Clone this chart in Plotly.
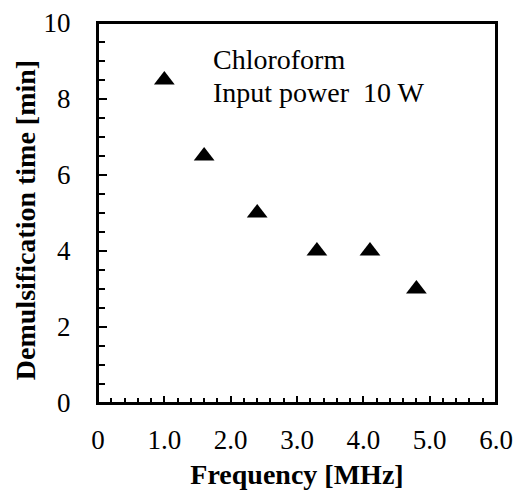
import plotly.graph_objects as go

freq = [1.0, 1.6, 2.4, 3.3, 4.1, 4.8]
demuls_time = [8.5, 6.5, 5.0, 4.0, 4.0, 3.0]
x_ticks = [0, 1, 2, 3, 4, 5, 6]
x_labels = ["0", "1.0", "2.0", "3.0", "4.0", "5.0", "6.0"]
y_ticks = [0, 2, 4, 6, 8, 10]
note_lines = ["Chloroform", "Input power  10 W"]

font_family = "Liberation Serif"

fig = go.Figure()
fig.add_trace(go.Scatter(
    x=freq, y=demuls_time, mode="markers",
    marker=dict(symbol="triangle-up", size=18, color="black"),
    showlegend=False, cliponaxis=False,
))

for line, ypos in zip(note_lines, [0.903, 0.818]):
    fig.add_annotation(x=0.285, y=ypos, xref="paper", yref="paper",
                       text=line, showarrow=False,
                       xanchor="left", yanchor="middle", align="left",
                       font=dict(family=font_family, size=28, color="black"))

# plot frame
fig.add_shape(type="rect", xref="paper", yref="paper", x0=0, x1=1, y0=0, y1=1,
              line=dict(color="black", width=2), fillcolor="rgba(0,0,0,0)", layer="above")

axis_common = dict(showline=True, linecolor="black", linewidth=2, mirror=True,
                   ticks="inside", tickcolor="black", showgrid=False, zeroline=False,
                   automargin=False, ticklabeloverflow="allow",
                   tickfont=dict(family=font_family, size=27, color="black"))

fig.update_xaxes(range=[0, 6], tickvals=x_ticks, ticktext=x_labels, ticklen=7, tickwidth=1.5,
                 ticklabelstandoff=12,
                 minor=dict(dtick=0.2, ticks="inside", ticklen=5, tickcolor="black", tickwidth=1.5),
                 title=dict(text="<b>Frequency [MHz]</b>", font=dict(family=font_family, size=28, color="black"), standoff=27),
                 **axis_common)
fig.update_yaxes(range=[0, 10], tickvals=y_ticks, ticklen=9, tickwidth=1.5,
                 ticklabelstandoff=20,
                 minor=dict(dtick=0.5, ticks="inside", ticklen=7, tickcolor="black", tickwidth=1.5),
                 title=dict(text="<b>Demulsification time [min]\u00a0\u00a0</b>", font=dict(family=font_family, size=28, color="black"), standoff=0),
                 **axis_common)

fig.update_layout(width=516, height=490, margin=dict(l=98, r=20, t=23, b=87),
                  plot_bgcolor="white", paper_bgcolor="white")

fig.write_html("out.html", config={"displayModeBar": False},
               post_script="document.body.style.margin='0';")
